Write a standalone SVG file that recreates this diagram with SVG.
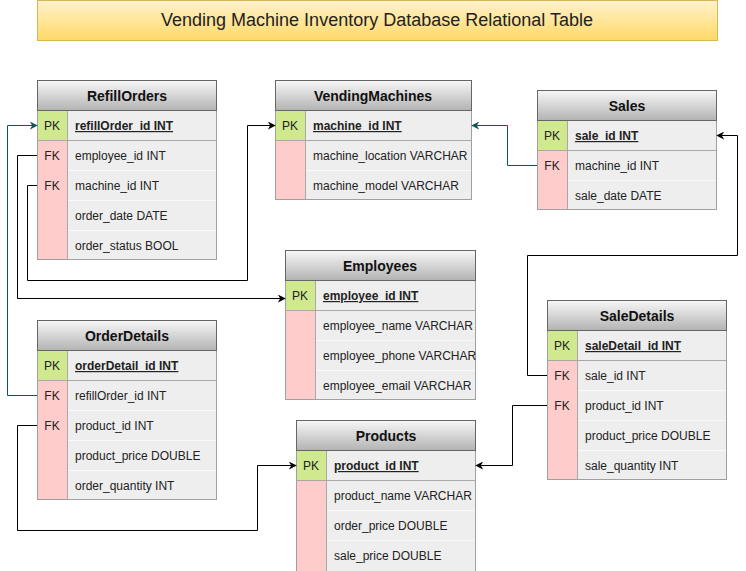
<svg xmlns="http://www.w3.org/2000/svg" width="746" height="571" viewBox="0 0 746 571">
<defs>
<linearGradient id="hdr" x1="0" y1="0" x2="0" y2="1"><stop offset="0" stop-color="#f7f7f7"/><stop offset="1" stop-color="#b3b3b3"/></linearGradient>
<linearGradient id="ttl" x1="0" y1="0" x2="0" y2="1"><stop offset="0" stop-color="#fff2cc"/><stop offset="1" stop-color="#ffd966"/></linearGradient>
<marker id="ab" viewBox="0 0 10 10" refX="9" refY="5" markerWidth="8" markerHeight="8" orient="auto" markerUnits="userSpaceOnUse"><path d="M0,0 L10,5 L0,10 L3,5 Z" fill="#000"/></marker>
<marker id="at" viewBox="0 0 10 10" refX="9" refY="5" markerWidth="8" markerHeight="8" orient="auto" markerUnits="userSpaceOnUse"><path d="M0,0 L10,5 L0,10 L3,5 Z" fill="#12565a"/></marker>
</defs>
<style>
text{font-family:"Liberation Sans",Arial,sans-serif;fill:#222}
.h{font-size:14px;font-weight:bold;text-anchor:middle;fill:#111}
.f{font-size:12px}
.pkf{font-size:12px;font-weight:bold;text-decoration:underline}
.k{font-size:12px;text-anchor:middle}
.hd{fill:url(#hdr);stroke:#666;stroke-width:1}
.fld{fill:#eeeeee}
.pk{fill:#d0e88e}
.fk{fill:#ffcccc}
.bd{fill:none;stroke:#a0a0a0;stroke-width:1}
.sp{stroke:#a8a8a8;stroke-width:1}
.ws{stroke:#fafafa;stroke-width:1}
.cb{fill:none;stroke:#000;stroke-width:1;marker-end:url(#ab)}
.ct{fill:none;stroke:#12565a;stroke-width:1;marker-end:url(#at)}
</style>
<rect width="746" height="571" fill="#fff"/>
<g id="title">
<rect x="37.5" y="0.5" width="680" height="40" fill="url(#ttl)" stroke="#d6b656"/>
<text x="377" y="26" style="font-size:18px;text-anchor:middle;fill:#222">Vending Machine Inventory Database Relational Table</text>
</g>

<g id="RefillOrders">
<rect class="fld" x="37" y="110" width="180" height="150"/>
<rect class="pk" x="37" y="110" width="30" height="30"/>
<rect class="fk" x="37" y="140" width="30" height="120"/>
<line class="ws" x1="67" y1="170.5" x2="217" y2="170.5"/><line class="ws" x1="67" y1="200.5" x2="217" y2="200.5"/><line class="ws" x1="67" y1="230.5" x2="217" y2="230.5"/>
<line class="sp" x1="37" y1="140.5" x2="217" y2="140.5"/>
<line class="sp" x1="67.5" y1="110" x2="67.5" y2="260"/>
<rect class="bd" x="37.5" y="110.5" width="179" height="149"/>
<rect class="hd" x="37.5" y="80.5" width="179" height="30"/>
<text class="h" x="127" y="101">RefillOrders</text>
<text class="k" x="52" y="130">PK</text><text class="pkf" x="75" y="130">refillOrder_id INT</text>
<text class="k" x="52" y="160">FK</text><text class="f" x="75" y="160">employee_id INT</text>
<text class="k" x="52" y="190">FK</text><text class="f" x="75" y="190">machine_id INT</text>
<text class="f" x="75" y="220">order_date DATE</text>
<text class="f" x="75" y="250">order_status BOOL</text>
</g>

<g id="VendingMachines">
<rect class="fld" x="275" y="110" width="197" height="90"/>
<rect class="pk" x="275" y="110" width="30" height="30"/>
<rect class="fk" x="275" y="140" width="30" height="60"/>
<line class="ws" x1="305" y1="170.5" x2="472" y2="170.5"/>
<line class="sp" x1="275" y1="140.5" x2="472" y2="140.5"/>
<line class="sp" x1="305.5" y1="110" x2="305.5" y2="200"/>
<rect class="bd" x="275.5" y="110.5" width="196" height="89"/>
<rect class="hd" x="275.5" y="80.5" width="196" height="30"/>
<text class="h" x="373" y="101">VendingMachines</text>
<text class="k" x="290" y="130">PK</text><text class="pkf" x="313" y="130">machine_id INT</text>
<text class="f" x="313" y="160">machine_location VARCHAR</text>
<text class="f" x="313" y="190">machine_model VARCHAR</text>
</g>

<g id="Sales">
<rect class="fld" x="537" y="120" width="180" height="90"/>
<rect class="pk" x="537" y="120" width="30" height="30"/>
<rect class="fk" x="537" y="150" width="30" height="60"/>
<line class="ws" x1="567" y1="180.5" x2="717" y2="180.5"/>
<line class="sp" x1="537" y1="150.5" x2="717" y2="150.5"/>
<line class="sp" x1="567.5" y1="120" x2="567.5" y2="210"/>
<rect class="bd" x="537.5" y="120.5" width="179" height="89"/>
<rect class="hd" x="537.5" y="90.5" width="179" height="30"/>
<text class="h" x="627" y="111">Sales</text>
<text class="k" x="552" y="140">PK</text><text class="pkf" x="575" y="140">sale_id INT</text>
<text class="k" x="552" y="170">FK</text><text class="f" x="575" y="170">machine_id INT</text>
<text class="f" x="575" y="200">sale_date DATE</text>
</g>

<g id="Employees">
<rect class="fld" x="285" y="280" width="191" height="120"/>
<rect class="pk" x="285" y="280" width="30" height="30"/>
<rect class="fk" x="285" y="310" width="30" height="90"/>
<line class="ws" x1="315" y1="340.5" x2="476" y2="340.5"/><line class="ws" x1="315" y1="370.5" x2="476" y2="370.5"/>
<line class="sp" x1="285" y1="310.5" x2="476" y2="310.5"/>
<line class="sp" x1="315.5" y1="280" x2="315.5" y2="400"/>
<rect class="bd" x="285.5" y="280.5" width="190" height="119"/>
<rect class="hd" x="285.5" y="250.5" width="190" height="30"/>
<text class="h" x="380" y="271">Employees</text>
<text class="k" x="300" y="300">PK</text><text class="pkf" x="323" y="300">employee_id INT</text>
<text class="f" x="323" y="330">employee_name VARCHAR</text>
<text class="f" x="323" y="360">employee_phone VARCHAR</text>
<text class="f" x="323" y="390">employee_email VARCHAR</text>
</g>

<g id="OrderDetails">
<rect class="fld" x="37" y="350" width="180" height="150"/>
<rect class="pk" x="37" y="350" width="30" height="30"/>
<rect class="fk" x="37" y="380" width="30" height="120"/>
<line class="ws" x1="67" y1="410.5" x2="217" y2="410.5"/><line class="ws" x1="67" y1="440.5" x2="217" y2="440.5"/><line class="ws" x1="67" y1="470.5" x2="217" y2="470.5"/>
<line class="sp" x1="37" y1="380.5" x2="217" y2="380.5"/>
<line class="sp" x1="67.5" y1="350" x2="67.5" y2="500"/>
<rect class="bd" x="37.5" y="350.5" width="179" height="149"/>
<rect class="hd" x="37.5" y="320.5" width="179" height="30"/>
<text class="h" x="127" y="341">OrderDetails</text>
<text class="k" x="52" y="370">PK</text><text class="pkf" x="75" y="370">orderDetail_id INT</text>
<text class="k" x="52" y="400">FK</text><text class="f" x="75" y="400">refillOrder_id INT</text>
<text class="k" x="52" y="430">FK</text><text class="f" x="75" y="430">product_id INT</text>
<text class="f" x="75" y="460">product_price DOUBLE</text>
<text class="f" x="75" y="490">order_quantity INT</text>
</g>

<g id="SaleDetails">
<rect class="fld" x="547" y="330" width="180" height="150"/>
<rect class="pk" x="547" y="330" width="30" height="30"/>
<rect class="fk" x="547" y="360" width="30" height="120"/>
<line class="ws" x1="577" y1="390.5" x2="727" y2="390.5"/><line class="ws" x1="577" y1="420.5" x2="727" y2="420.5"/><line class="ws" x1="577" y1="450.5" x2="727" y2="450.5"/>
<line class="sp" x1="547" y1="360.5" x2="727" y2="360.5"/>
<line class="sp" x1="577.5" y1="330" x2="577.5" y2="480"/>
<rect class="bd" x="547.5" y="330.5" width="179" height="149"/>
<rect class="hd" x="547.5" y="300.5" width="179" height="30"/>
<text class="h" x="637" y="321">SaleDetails</text>
<text class="k" x="562" y="350">PK</text><text class="pkf" x="585" y="350">saleDetail_id INT</text>
<text class="k" x="562" y="380">FK</text><text class="f" x="585" y="380">sale_id INT</text>
<text class="k" x="562" y="410">FK</text><text class="f" x="585" y="410">product_id INT</text>
<text class="f" x="585" y="440">product_price DOUBLE</text>
<text class="f" x="585" y="470">sale_quantity INT</text>
</g>

<g id="Products">
<rect class="fld" x="296" y="450" width="180" height="121"/>
<rect class="pk" x="296" y="450" width="30" height="30"/>
<rect class="fk" x="296" y="480" width="30" height="91"/>
<line class="ws" x1="326" y1="510.5" x2="476" y2="510.5"/><line class="ws" x1="326" y1="540.5" x2="476" y2="540.5"/>
<line class="sp" x1="296" y1="480.5" x2="476" y2="480.5"/>
<line class="sp" x1="326.5" y1="450" x2="326.5" y2="571"/>
<rect class="bd" x="296.5" y="450.5" width="179" height="121"/>
<rect class="hd" x="296.5" y="420.5" width="179" height="30"/>
<text class="h" x="386" y="441">Products</text>
<text class="k" x="311" y="470">PK</text><text class="pkf" x="334" y="470">product_id INT</text>
<text class="f" x="334" y="500">product_name VARCHAR</text>
<text class="f" x="334" y="530">order_price DOUBLE</text>
<text class="f" x="334" y="560">sale_price DOUBLE</text>
</g>

<g id="connectors">
<path class="ct" d="M37,395.5 H7.5 V125.5 H37"/>
<path class="cb" d="M37,155.5 H17.5 V298.5 H285"/>
<path class="cb" d="M37,185.5 H27.5 V280.5 H247.5 V125.5 H275"/>
<path class="ct" d="M537,165.5 H507.5 V125.5 H472"/>
<path class="cb" d="M547,375.5 H527.5 V255.5 H737.5 V135.5 H717"/>
<path class="cb" d="M547,405.5 H512.5 V465.5 H476"/>
<path class="cb" d="M37,425.5 H17.5 V530.5 H257.5 V465.5 H296"/>
</g>
</svg>
